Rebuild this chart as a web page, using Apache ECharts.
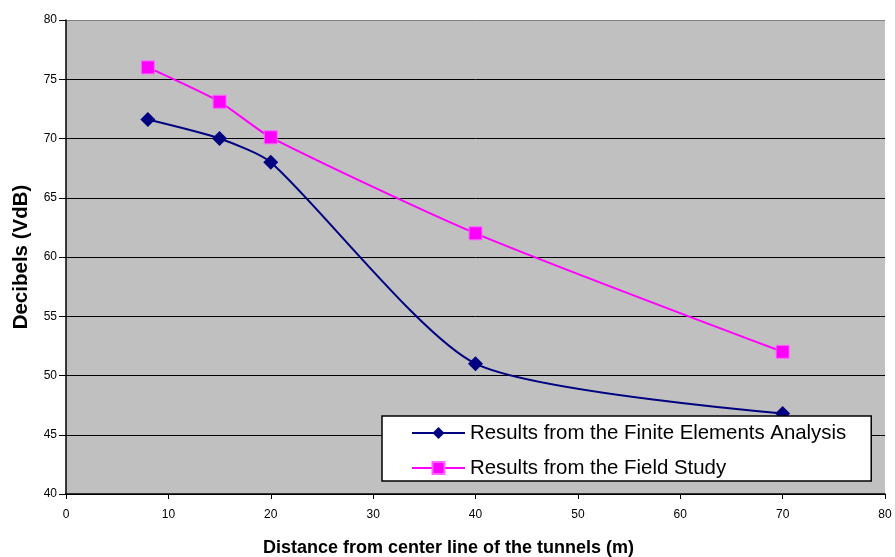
<!DOCTYPE html>
<html><head><meta charset="utf-8">
<script src="https://cdn.jsdelivr.net/npm/echarts@6/dist/echarts.min.js"></script>
<style>html,body{margin:0;padding:0;background:#fff;}#c{width:895px;height:557px;}</style>
</head><body><div id="c"></div>
<script>
const distances = [8, 15, 20, 40, 70];
const feaValues = [71.6, 70.0, 68.0, 51.0, 46.8];
const fieldValues = [76.0, 73.1, 70.1, 62.0, 52.0];
const seriesNames = ['Results from the Finite Elements Analysis', 'Results from the Field Study'];
const xTitle = 'Distance from center line of the tunnels (m)';
const yTitle = 'Decibels (VdB)';

const font = 'Liberation Sans, Arial, sans-serif';
const chart = echarts.init(document.getElementById('c'));
chart.setOption({
  animation: false,
  backgroundColor: '#fff',
  grid: { left: 66, right: 10, top: 20, bottom: 63, show: true, backgroundColor: '#C0C0C0', borderWidth: 0, outerBoundsMode: 'none', containLabel: false },
  legend: {
    orient: 'vertical', left: 382, top: 416,
    backgroundColor: '#fff', borderColor: '#000', borderWidth: 1.5,
    padding: [7, 25, 3, 29], itemGap: 15, itemWidth: 53, itemHeight: 15,
    textStyle: { fontFamily: font, fontSize: 20.4, color: '#000' },
    data: seriesNames
  },
  xAxis: {
    type: 'value', min: 0, max: 80, interval: 10,
    name: xTitle, nameLocation: 'middle', nameGap: 45,
    nameTextStyle: { fontFamily: font, fontSize: 18, fontWeight: 'bold', color: '#000', padding: [0, 54, 0, 0] },
    axisLine: { show: true, onZero: false, lineStyle: { color: '#000', width: 1.5 } },
    axisTick: { show: true, length: 5, lineStyle: { color: '#000' } },
    axisLabel: { fontFamily: font, fontSize: 12, color: '#000', margin: 15 },
    splitLine: { show: false }
  },
  yAxis: {
    type: 'value', min: 40, max: 80, interval: 5,
    name: yTitle, nameLocation: 'middle', nameGap: 34, nameRotate: 90,
    nameTextStyle: { fontFamily: font, fontSize: 20.5, fontWeight: 'bold', color: '#000' },
    axisLine: { show: true, onZero: false, lineStyle: { color: '#000', width: 1.5 } },
    axisTick: { show: true, length: 7, lineStyle: { color: '#000' } },
    axisLabel: { fontFamily: font, fontSize: 12, color: '#000', margin: 9 },
    splitLine: { show: true, lineStyle: { color: ['#000','#000','#000','#000','#000','#000','#000','#000','#808080'], width: 1 } }
  },
  series: [
    {
      name: seriesNames[0], type: 'line', smooth: 0.22,
      data: distances.map((d, i) => [d, feaValues[i]]),
      symbol: 'diamond', symbolSize: 15,
      lineStyle: { color: '#000080', width: 2 },
      itemStyle: { color: '#000080' }
    },
    {
      name: seriesNames[1], type: 'line', smooth: 0.22,
      data: distances.map((d, i) => [d, fieldValues[i]]),
      symbol: 'rect', symbolSize: 13,
      lineStyle: { color: '#FF00FF', width: 2 },
      itemStyle: { color: '#FF00FF', borderColor: '#FF66FF', borderWidth: 1 }
    }
  ]
});
</script></body></html>
